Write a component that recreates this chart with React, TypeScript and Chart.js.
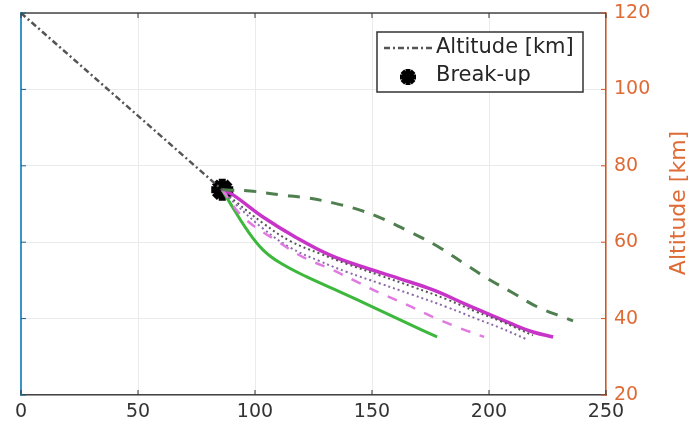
import React, { useEffect, useRef } from "react";
import { Chart, registerables } from "chart.js";

Chart.register(...registerables);

// ---- data ----
const altitudeX = [0, 86];
const altitudeY = [120, 73.7];

const breakupX = [86];
const breakupY = [73.7];

const greenDashX = [86, 97.9, 110.7, 122.2, 133.3, 144.9, 154.7, 166.2, 177.8, 188.9, 199.1, 210.3, 220.9, 232.5, 235.9];
const greenDashY = [73.7, 73.4, 72.4, 71.6, 70.3, 68.4, 66.1, 62.7, 59.0, 54.6, 50.6, 46.7, 43.0, 40.2, 39.4];

const greenSolidX = [86, 89.3, 96.6, 103.4, 110.7, 122.2, 136.3, 150.4, 165.0, 177.8];
const greenSolidY = [73.7, 70.3, 63.2, 58.0, 54.6, 50.9, 47.0, 43.0, 38.8, 35.2];

const magentaSolidX = [86, 90.6, 103.4, 117.9, 132.1, 146.2, 162.0, 176.1, 190.6, 209.0, 218.8, 227.4];
const magentaSolidY = [73.7, 72.4, 66.6, 61.1, 56.6, 53.5, 50.4, 47.5, 43.6, 38.8, 36.5, 35.2];

const magentaDashX = [86, 95, 110.7, 120.5, 133.3, 143.6, 153.4, 165.0, 176.1, 187.6, 197.9];
const magentaDashY = [73.7, 66.5, 59.8, 56.1, 52.7, 49.6, 46.7, 43.6, 40.4, 37.5, 35.2];

const dottedAX = [86, 92, 103.4, 115.0, 127.8, 139.3, 153.4, 167.5, 182.1, 194.9, 204.7, 218.8];
const dottedAY = [73.7, 70.5, 65.0, 60.3, 57.0, 54.3, 51.3, 48.3, 45.0, 41.7, 39.4, 35.6];

const dottedBX = [86, 92, 103.4, 115.0, 127.8, 139.3, 153.4, 167.5, 182.1, 194.9, 204.7, 216.0];
const dottedBY = [73.7, 69.8, 63.6, 58.6, 55.0, 52.2, 49.2, 46.2, 43.0, 39.9, 37.6, 34.6];

const xTicks = [0, 50, 100, 150, 200, 250];
const yTicks = [20, 40, 60, 80, 100, 120];

const legendLabels = ["Altitude [km]", "Break-up"];
const axisTitle = "Altitude [km]";

const ORANGE = "#d95319";
const ORANGE_TEXT = "#de6a35";
const BLUE = "#3b94c6";
const FONT = "'DejaVu Sans', 'Liberation Sans', sans-serif";

function pts(xs: number[], ys: number[]) {
  return xs.map((x, i) => ({ x, y: ys[i] }));
}

export default function App() {
  const ref = useRef<HTMLCanvasElement | null>(null);

  useEffect(() => {
    if (!ref.current) return;

    const decor = {
      id: "decor",
      afterDatasetsDraw(chart: any) {
        const { ctx, chartArea } = chart;
        const sx = chart.scales.x;
        const sy = chart.scales.y2;
        ctx.save();
        // top border
        ctx.strokeStyle = "#444";
        ctx.lineWidth = 1.5;
        ctx.beginPath();
        ctx.moveTo(chartArea.left, chartArea.top);
        ctx.lineTo(chartArea.right, chartArea.top);
        ctx.stroke();
        // inward ticks on x
        ctx.lineWidth = 1;
        ctx.strokeStyle = "#333";
        xTicks.forEach((t) => {
          const px = sx.getPixelForValue(t);
          ctx.beginPath();
          ctx.moveTo(px, chartArea.bottom);
          ctx.lineTo(px, chartArea.bottom - 5);
          ctx.moveTo(px, chartArea.top);
          ctx.lineTo(px, chartArea.top + 5);
          ctx.stroke();
        });
        // inward ticks on y
        yTicks.forEach((t) => {
          const py = sy.getPixelForValue(t);
          ctx.strokeStyle = ORANGE;
          ctx.beginPath();
          ctx.moveTo(chartArea.right, py);
          ctx.lineTo(chartArea.right - 5, py);
          ctx.stroke();
          ctx.strokeStyle = "#1f5f85";
          ctx.beginPath();
          ctx.moveTo(chartArea.left, py);
          ctx.lineTo(chartArea.left + 5, py);
          ctx.stroke();
        });

        // legend box
        const bx = 377, by = 32, bw = 206, bh = 60;
        ctx.fillStyle = "#fff";
        ctx.fillRect(bx, by, bw, bh);
        ctx.strokeStyle = "#333";
        ctx.lineWidth = 1.5;
        ctx.strokeRect(bx, by, bw, bh);
        // line sample
        ctx.strokeStyle = "#555";
        ctx.lineWidth = 2.5;
        ctx.setLineDash([6, 3, 2, 3]);
        ctx.beginPath();
        ctx.moveTo(384, 48);
        ctx.lineTo(432, 48);
        ctx.stroke();
        ctx.setLineDash([]);
        // star marker
        ctx.strokeStyle = "#000";
        ctx.lineWidth = 5;
        const cx = 408, cy = 77, r = 8;
        for (let k = 0; k < 4; k++) {
          const a = (k * Math.PI) / 4;
          ctx.beginPath();
          ctx.moveTo(cx - r * Math.cos(a), cy - r * Math.sin(a));
          ctx.lineTo(cx + r * Math.cos(a), cy + r * Math.sin(a));
          ctx.stroke();
        }
        ctx.fillStyle = "#262626";
        ctx.font = `21px ${FONT}`;
        ctx.textBaseline = "middle";
        ctx.textAlign = "left";
        ctx.fillText(legendLabels[0], 436, 48);
        ctx.fillText(legendLabels[1], 436, 76);

        // right axis title
        ctx.save();
        ctx.translate(679, 203);
        ctx.rotate(-Math.PI / 2);
        ctx.fillStyle = ORANGE_TEXT;
        ctx.font = `22px ${FONT}`;
        ctx.textAlign = "center";
        ctx.textBaseline = "middle";
        ctx.fillText(axisTitle, 0, 0);
        ctx.restore();

        ctx.restore();
      },
    };

    const chart = new Chart(ref.current, {
      type: "line",
      data: {
        datasets: [
          {
            label: "Altitude [km]",
            data: pts(altitudeX, altitudeY),
            borderColor: "#555",
            borderWidth: 2.5,
            borderDash: [6, 3, 2, 3],
            pointRadius: 0,
            yAxisID: "y2",
          },
          {
            label: "green dashed",
            data: pts(greenDashX, greenDashY),
            borderColor: "#4f7f4f",
            borderWidth: 3,
            borderDash: [12, 10],
            pointRadius: 0,
            tension: 0.4,
            yAxisID: "y2",
          },
          {
            label: "magenta dashed",
            data: pts(magentaDashX, magentaDashY),
            borderColor: "#e07ae0",
            borderWidth: 2.5,
            borderDash: [10, 10],
            pointRadius: 0,
            tension: 0.4,
            yAxisID: "y2",
          },
          {
            label: "dotted b",
            data: pts(dottedBX, dottedBY),
            borderColor: "#8a6aa8",
            borderWidth: 2,
            borderDash: [2, 3],
            pointRadius: 0,
            tension: 0.4,
            yAxisID: "y2",
          },
          {
            label: "dotted a",
            data: pts(dottedAX, dottedAY),
            borderColor: "#555",
            borderWidth: 2,
            borderDash: [2, 3],
            pointRadius: 0,
            tension: 0.4,
            yAxisID: "y2",
          },
          {
            label: "green solid",
            data: pts(greenSolidX, greenSolidY),
            borderColor: "#3db83d",
            borderWidth: 3,
            pointRadius: 0,
            tension: 0.4,
            yAxisID: "y2",
          },
          {
            label: "magenta solid",
            data: pts(magentaSolidX, magentaSolidY),
            borderColor: "#c833c8",
            borderWidth: 3.5,
            pointRadius: 0,
            tension: 0.4,
            yAxisID: "y2",
          },
          {
            label: "Break-up",
            data: pts(breakupX, breakupY),
            showLine: false,
            pointStyle: "star",
            pointRadius: 11,
            borderWidth: 7,
            borderColor: "#000",
            backgroundColor: "#000",
            yAxisID: "y2",
          },
        ],
      },
      options: {
        responsive: false,
        animation: false,
        events: [],
        layout: { autoPadding: false, padding: { left: 0, right: 0, top: 13, bottom: 0 } },
        plugins: {
          legend: { display: false },
          tooltip: { enabled: false },
          title: { display: false },
        },
        scales: {
          x: {
            type: "linear",
            min: 0,
            max: 250,
            afterBuildTicks: (s: any) => {
              s.ticks = xTicks.map((v) => ({ value: v }));
            },
            ticks: {
              color: "#333",
              font: { size: 19, family: FONT },
              padding: 6,
              maxRotation: 0,
            },
            grid: { color: "#ebebeb", lineWidth: 1, drawTicks: false },
            border: { color: "#444", width: 1.5 },
            afterFit: (s: any) => {
              s.height = 30;
              s.paddingLeft = 0;
              s.paddingRight = 0;
            },
          },
          y: {
            position: "left",
            min: 20,
            max: 120,
            ticks: { display: false },
            grid: { display: false, drawTicks: false },
            border: { color: BLUE, width: 2 },
            afterFit: (s: any) => {
              s.width = 21;
              s.paddingTop = 0;
              s.paddingBottom = 0;
            },
          },
          y2: {
            position: "right",
            min: 20,
            max: 120,
            afterBuildTicks: (s: any) => {
              s.ticks = yTicks.map((v) => ({ value: v }));
            },
            ticks: {
              color: ORANGE_TEXT,
              font: { size: 19, family: FONT },
              padding: 8,
            },
            grid: { color: "#ebebeb", lineWidth: 1, drawTicks: false },
            border: { color: ORANGE, width: 1.5 },
            afterFit: (s: any) => {
              s.width = 89;
              s.paddingTop = 0;
              s.paddingBottom = 0;
            },
          },
        },
      },
      plugins: [decor],
    });

    return () => chart.destroy();
  }, []);

  return (
    <div style={{ position: "absolute", left: 0, top: 0, width: 695, height: 425, background: "#fff" }}>
      <canvas ref={ref} width={695} height={425} style={{ display: "block" }} />
    </div>
  );
}
